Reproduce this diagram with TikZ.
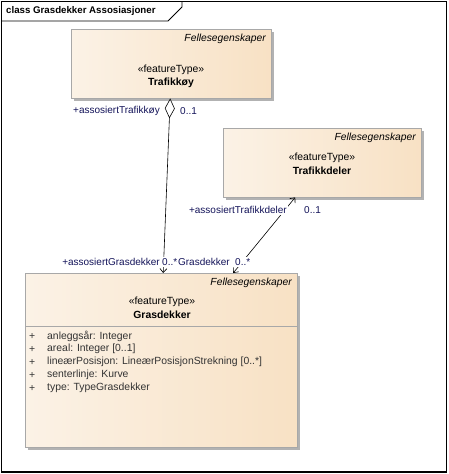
\documentclass[tikz,border=0pt]{standalone}
\usepackage{fontspec}
\setmainfont{Liberation Sans}
\usetikzlibrary{arrows.meta,shadows}
\definecolor{boxleft}{HTML}{FBF2E6}
\definecolor{boxright}{HTML}{F8E1C4}
\definecolor{boxline}{HTML}{A8A8A8}
\definecolor{shadowgrey}{HTML}{B2B2B2}
\definecolor{rolenavy}{HTML}{14145A}
\tikzset{
  classbox/.style={draw=boxline, left color=boxleft, right color=boxright, anchor=north west, inner sep=0,
    drop shadow={shadow xshift=3pt, shadow yshift=-3pt, fill=shadowgrey, opacity=1}},
  felles/.style={font=\fontsize{10.3}{12}\selectfont\itshape, inner sep=0, anchor=east},
  stereo/.style={font=\fontsize{10.4}{12}\selectfont, inner sep=0},
  classname/.style={font=\fontsize{10.4}{12}\selectfont\bfseries, inner sep=0},
  attr/.style={font=\fontsize{10.4}{12}\selectfont, text=black!80, inner sep=0, anchor=west},
  role/.style={font=\fontsize{10}{12}\selectfont, text=rolenavy, inner sep=1pt, fill=white},
  assoc/.style={line width=0.6pt}
}
\begin{document}
\begin{tikzpicture}[x=1pt, y=-1pt]
\useasboundingbox (0,0) rectangle (448,474);
% frame and its tab
\draw[line width=1.1pt] (1.5,1.5) rectangle (446.5,472);
\draw[line width=0.8pt] (1.5,21) -- (168,21) -- (182,7) -- (182,1.5);
\node[classname, anchor=west, font=\fontsize{9.7}{12}\selectfont\bfseries] (framelabel) at (6,11) {class Grasdekker Assosiasjoner};
% Trafikkoy
\node[classbox, minimum width=200pt, minimum height=69pt] (trafikkoy) at (71,29) {};
\node[felles] (trafikkoyfelles) at (266,39) {Fellesegenskaper};
\node[stereo] (trafikkoystereo) at (171,70) {«featureType»};
\node[classname] (trafikkoyname) at (171,83) {Trafikkøy};
% Trafikkdeler
\node[classbox, minimum width=198pt, minimum height=69pt] (trafikkdeler) at (223,128) {};
\node[felles] (trafikkdelerfelles) at (416,138) {Fellesegenskaper};
\node[stereo] (trafikkdelerstereo) at (322,158) {«featureType»};
\node[classname] (trafikkdelername) at (322,171) {Trafikkdeler};
% Grasdekker
\node[classbox, minimum width=272pt, minimum height=174pt] (grasdekker) at (25,273) {};
\node[felles] (grasdekkerfelles) at (292,283) {Fellesegenskaper};
\node[stereo] (grasdekkerstereo) at (162,302) {«featureType»};
\node[classname] (grasdekkername) at (162,315) {Grasdekker};
\draw[boxline] (25,326) -- (297,326);
\foreach \attrtext [count=\i] in {{anleggsår: Integer}, {areal: Integer [0..1]},
    {lineærPosisjon: LineærPosisjonStrekning [0..*]}, {senterlinje: Kurve}, {type: TypeGrasdekker}} {
  \node[attr] (plus\i) at (29,323+13*\i) {+};
  \node[attr] (attr\i) at (47,323+13*\i) {\attrtext};
}
% associations
\draw[assoc, {Diamond[fill=white, length=20pt, width=10pt]}-{Straight Barb[length=4pt, width=7pt]}]
  ([xshift=-1pt]trafikkoy.south) -- ([xshift=2pt]grasdekker.north);
\draw[assoc, {Straight Barb[length=4pt, width=7pt]}-{Straight Barb[length=4pt, width=7pt]}]
  ([xshift=-27pt]trafikkdeler.south) -- ([xshift=72pt]grasdekker.north);
% role names and multiplicities
\node[role, anchor=east] (roletrafikkoy) at (161,111) {+assosiertTrafikkøy};
\node[role, anchor=west] (multtrafikkoy) at (179,111) {0..1};
\node[role, anchor=east] (roletrafikkdeler) at (288,210) {+assosiertTrafikkdeler};
\node[role, anchor=west] (multtrafikkdeler) at (303,210) {0..1};
\node[role, anchor=east] (rolegrasdekkerb) at (231,262) {+assosiertGrasdekker};
\node[role, anchor=west] (multgrasdekkerb) at (234,262) {0..*};
\node[role, anchor=east] (rolegrasdekkera) at (161,262) {+assosiertGrasdekker};
\node[role, anchor=west] (multgrasdekkera) at (161,262) {0..*};
\end{tikzpicture}
\end{document}
